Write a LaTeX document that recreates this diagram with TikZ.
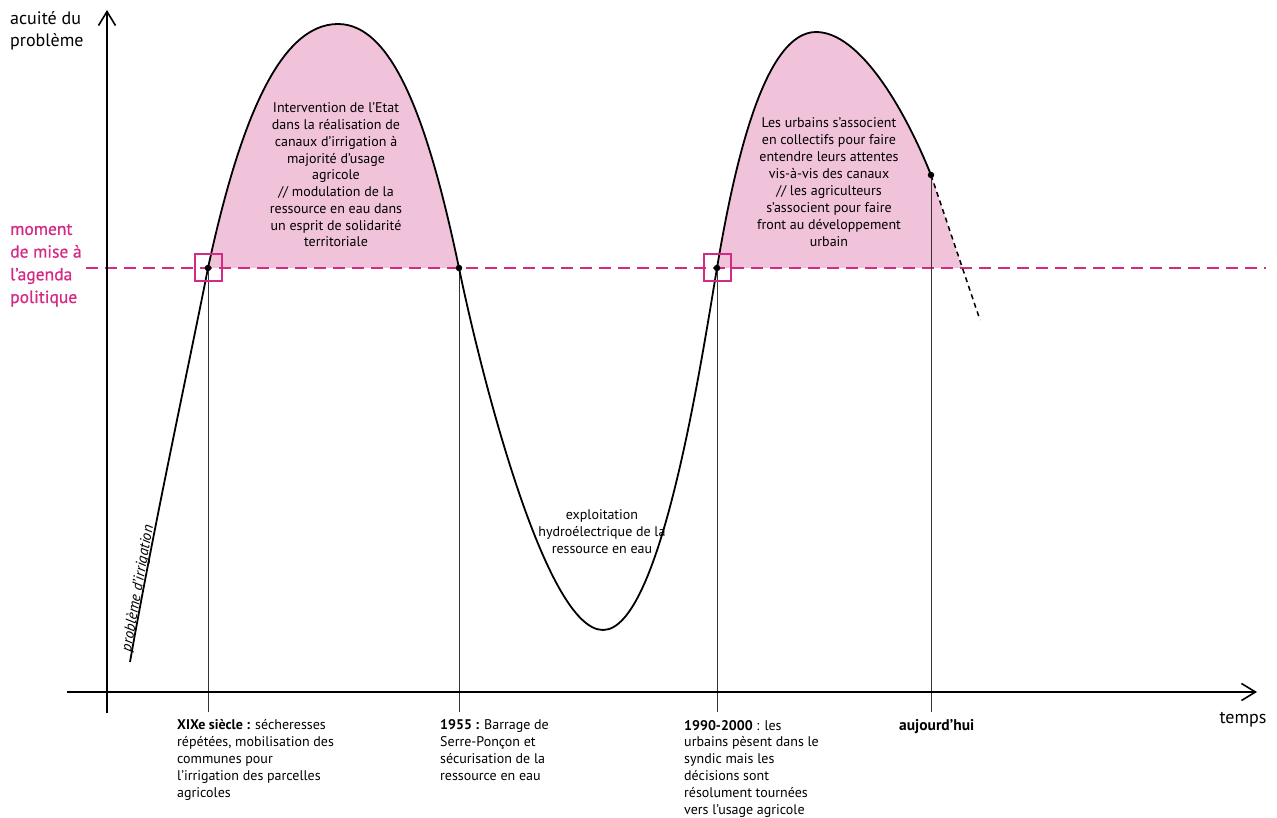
\documentclass[tikz,border=0pt]{standalone}
\usepackage{fontspec}
\setmainfont{PT Sans}
\usetikzlibrary{arrows.meta}
\definecolor{mag}{HTML}{D42A86}
\definecolor{lpink}{HTML}{F1C3DB}
\begin{document}
\begin{tikzpicture}[x=1pt,y=-1pt,
  body/.style={font=\fontsize{14}{17}\selectfont, inner sep=0pt, align=center},
  lbl/.style={font=\fontsize{14}{16.8}\selectfont, inner sep=0pt, align=left, anchor=base west},
  axlbl/.style={font=\fontsize{18}{22}\selectfont, inner sep=0pt, align=left},
  curve/.style={line width=1.8pt, black},
  tick/.style={line width=0.6pt, black!80},
  axis/.style={line width=1.6pt, black, -{Straight Barb[length=14pt,width=17pt,line width=1.6pt]}},
  dot/.style={circle, fill=black, inner sep=0pt, minimum size=6.5pt},
  sq/.style={draw=mag, line width=2pt, minimum size=27pt, inner sep=0pt}]
\useasboundingbox (0,0) rectangle (1277,818);
% key points
\coordinate (P0) at (130,662);
\coordinate (A) at (208,268);
\coordinate (T1) at (338,24);
\coordinate (B) at (459,268);
\coordinate (U) at (603,630);
\coordinate (C) at (717,268);
\coordinate (T2) at (816,32);
\coordinate (D) at (931,175);
\coordinate (E) at (980,320);
\coordinate (F) at (962,268);
\coordinate (tA) at (208,712);
\coordinate (tB) at (459,712);
\coordinate (tC) at (717,712);
\coordinate (tD) at (931,712);
\coordinate (xs) at (67,692);
\coordinate (xe) at (1257,692);
\coordinate (ys) at (107,713);
\coordinate (ye) at (107,10);
\coordinate (ms) at (86,268);
\coordinate (me) at (1266,268);
% fills
\fill[lpink] (A) .. controls (240,120) and (280,24) .. (T1) .. controls (395,24) and (430,130) .. (B) -- cycle;
\fill[lpink] (C) .. controls (735,160) and (765,32) .. (T2) .. controls (860,32) and (905,110) .. (D) -- (F) -- cycle;
% agenda line
\draw[mag, line width=1.6pt, dash pattern=on 12pt off 7pt] (ms) -- (me);
% ticks
\draw[tick] (A) -- (tA);
\draw[tick] (B) -- (tB);
\draw[tick] (C) -- (tC);
\draw[tick] (D) -- (tD);
% curve
\draw[curve] (P0) .. controls (155,520) and (190,360) .. (A)
  .. controls (240,120) and (280,24) .. (T1)
  .. controls (395,24) and (430,130) .. (B)
  .. controls (480,370) and (545,630) .. (U)
  .. controls (660,630) and (700,370) .. (C)
  .. controls (735,160) and (765,32) .. (T2)
  .. controls (860,32) and (905,110) .. (D);
\draw[line width=1.5pt, dash pattern=on 5pt off 4pt] (D) -- (E);
% squares and dots
\node[sq] (sqA) at (A) {};
\node[sq] (sqC) at (C) {};
\node[dot] (dA) at (A) {};
\node[dot] (dB) at (B) {};
\node[dot] (dC) at (C) {};
\node[dot] (dD) at (D) {};
% axes
\draw[axis] (xs) -- (xe);
\draw[axis] (ys) -- (ye);
% axis labels (anchor base = baseline of last line)
\node[axlbl, anchor=base west] (ylab) at (10,47) {acuité du\\problème};
\node[axlbl, anchor=base] (xlab) at (1243,723) {temps};
\node[axlbl, text=mag, anchor=base west, font=\fontsize{17.5}{22.7}\selectfont\addfontfeatures{FakeBold=0.8}] (mlab) at (10,303) {moment\\de mise à\\l’agenda\\politique};
% hump texts
\node[body, anchor=base, font=\fontsize{14}{16.75}\selectfont] (h1) at (336,247) {Intervention de l’Etat\\dans la réalisation de\\canaux d’irrigation à\\majorité d’usage\\agricole\\// modulation de la\\ressource en eau dans\\un esprit de solidarité\\territoriale};
\node[body, anchor=base] (h2) at (829,247) {Les urbains s’associent\\en collectifs pour faire\\entendre leurs attentes\\vis-à-vis des canaux\\// les agriculteurs\\s’associent pour faire\\front au développement\\urbain};
\node[body, anchor=base] (tr) at (602,553) {exploitation\\hydroélectrique de la\\ressource en eau};
% rotated label
\node[font=\fontsize{15}{17}\selectfont\itshape, inner sep=0pt, rotate=80, anchor=base] (pi) at (142,589) {problème d’irrigation};
% bottom labels
\node[lbl] (l1) at (177,797) {\textbf{XIXe siècle :} sécheresses\\répétées, mobilisation des\\communes pour\\l’irrigation des parcelles\\agricoles};
\node[lbl] (l2) at (440,780) {\textbf{1955 :} Barrage de\\Serre-Ponçon et\\sécurisation de la\\ressource en eau};
\node[lbl] (l3) at (684,814) {\textbf{1990-2000} : les\\urbains pèsent dans le\\syndic mais les\\décisions sont\\résolument tournées\\vers l’usage agricole};
\node[lbl, font=\fontsize{15.5}{17}\selectfont] (l4) at (899,730) {\textbf{aujourd’hui}};
\end{tikzpicture}
\end{document}
